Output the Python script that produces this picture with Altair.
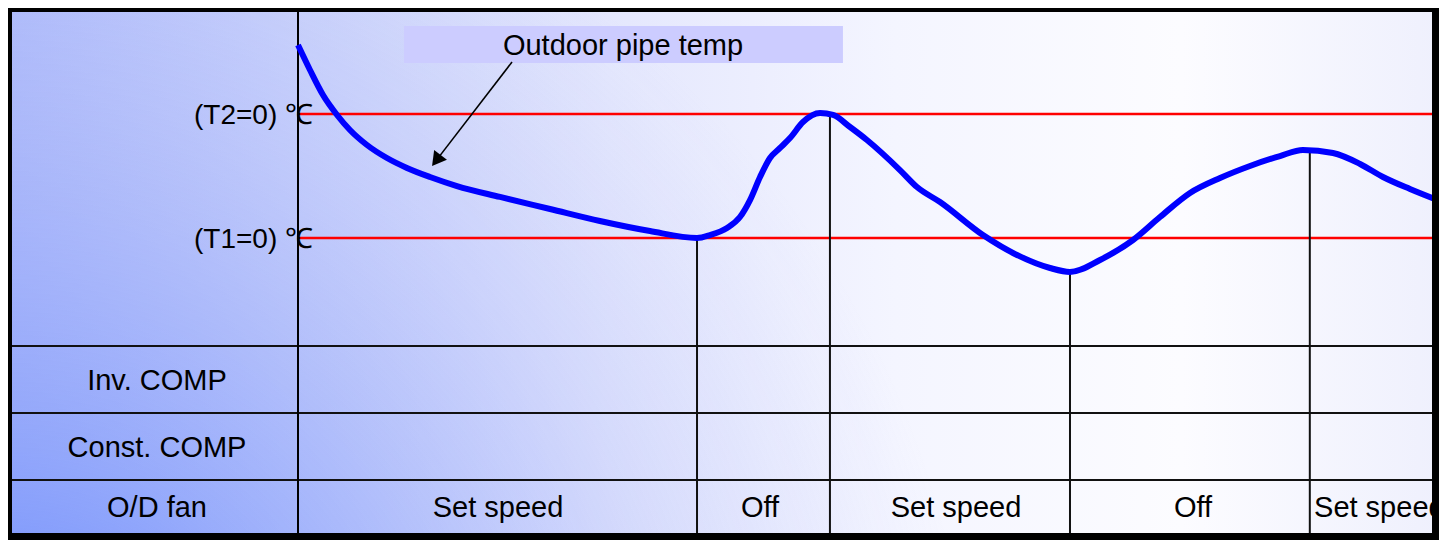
import altair as alt
import pandas as pd

W, H = 1431, 532
FONT = "Liberation Sans"

# ---------------- data ----------------
# time axis: 0 = start of chart, 100 = right edge; temperature axis: T1 = 0, T2 = 10
curve_t = [0.00, 1.05, 2.19, 3.42, 4.55, 6.04, 7.79, 9.54, 11.56, 13.92, 17.69,
           22.07, 26.44, 30.82, 34.94, 36.08, 37.57, 38.70, 39.58, 40.46, 41.33,
           42.21, 43.08, 44.22, 45.71, 46.85, 48.34, 49.82, 52.71, 54.20, 56.22,
           59.98, 62.96, 65.85, 67.60, 70.23, 73.12, 75.48, 78.11, 80.74, 83.36,
           85.99, 88.00, 90.63, 93.00, 95.01, 97.37, 100.00]
curve_temp = [15.56, 13.55, 11.53, 9.92, 8.71, 7.50, 6.45, 5.65, 4.92, 4.19, 3.31,
              2.34, 1.37, 0.56, 0.00, 0.24, 0.81, 1.69, 3.06, 4.92, 6.45,
              7.26, 8.06, 9.35, 10.08, 9.92, 8.95, 7.90, 5.48, 4.11, 2.90,
              0.24, -1.37, -2.42, -2.74, -1.77, -0.16, 1.69, 3.63, 4.84, 5.81,
              6.61, 7.10, 6.85, 5.97, 4.92, 3.95, 2.98]

threshold_labels = ["(T1=0) ℃", "(T2=0) ℃"]
threshold_temp = [0, 10]

event_t = [34.94, 46.58, 67.60, 88.60]
event_temp = [0.00, 10.00, -2.74, 7.10]

row_labels = ["Inv. COMP", "Const. COMP", "O/D fan"]
row_centers = [0.5, 1.5, 2.5]
row_edges = [0, 1, 2]

fan_labels = ["Set speed", "Off", "Set speed", "Off"]
fan_label_t = [17.51, 40.46, 57.62, 78.37]
fan_last_label = ["Set speed"]
fan_last_t = [88.97]

note_text = ["Outdoor pipe temp"]
note_t = [28.46]
note_temp = [15.52]
note_box_t = [9.28, 47.72]
note_box_temp = [14.11, 17.10]

arrow_t = [18.74, 12.11]
arrow_temp = [14.19, 6.26]

# ---------------- tables ----------------
one = pd.DataFrame({"k": [0]})
curve = pd.DataFrame({"t": curve_t, "temp": curve_temp})
thr = pd.DataFrame({"label": threshold_labels, "temp": threshold_temp,
                    "t0": [0] * 2, "t1": [100] * 2})
events = pd.DataFrame({"t": event_t, "temp": event_temp})
rows = pd.DataFrame({"label": row_labels, "pos": row_centers})
edges = pd.DataFrame({"pos": row_edges})
fan = pd.DataFrame({"label": fan_labels, "t": fan_label_t})
fan_last = pd.DataFrame({"label": fan_last_label, "t": fan_last_t})
note = pd.DataFrame({"label": note_text, "t": note_t, "temp": note_temp})
note_box = pd.DataFrame({"t0": [note_box_t[0]], "t1": [note_box_t[1]],
                         "y0": [note_box_temp[0]], "y1": [note_box_temp[1]]})
arrow = pd.DataFrame({"t": arrow_t, "temp": arrow_temp, "o": [0, 1]})
arrow_head = pd.DataFrame({"t": [arrow_t[1]], "temp": [arrow_temp[1]]})

# ---------------- scales ----------------
def xs():
    return alt.Scale(domain=[0, 100], range=[290, 1432], zero=False, nice=False)

def ts():
    return alt.Scale(domain=[0, 10], range=[230, 106], zero=False, nice=False)

def rs():
    return alt.Scale(domain=[0, 1, 2, 3], range=[338, 405, 472, 525], zero=False, nice=False)

X = lambda f: alt.X(f, type="quantitative", scale=xs(), axis=None)
YT = lambda f: alt.Y(f, type="quantitative", scale=ts(), axis=None)
YR = lambda f: alt.Y(f, type="quantitative", scale=rs(), axis=None)

# ---------------- background ----------------
bg_main = alt.Chart(one).mark_rect(
    fill=alt.LinearGradient(
        gradient="linear", x1=0, y1=0, x2=1, y2=0,
        stops=[alt.GradientStop(offset=0.0, color="#b2befa"),
               alt.GradientStop(offset=0.2, color="#cbd3fb"),
               alt.GradientStop(offset=0.42, color="#e4e7fd"),
               alt.GradientStop(offset=0.62, color="#f4f5ff"),
               alt.GradientStop(offset=0.82, color="#fcfcff"),
               alt.GradientStop(offset=1.0, color="#eff0fd")])
).encode(x=alt.value(0), x2=alt.value(W), y=alt.value(0), y2=alt.value(H))

bg_glow = alt.Chart(one).mark_rect(
    fill=alt.RadialGradient(
        gradient="radial", x1=0, y1=1, x2=0, y2=1, r1=0, r2=1,
        stops=[alt.GradientStop(offset=0.0, color="rgba(85,125,255,0.9)"),
               alt.GradientStop(offset=0.32, color="rgba(110,140,252,0.5)"),
               alt.GradientStop(offset=0.68, color="rgba(150,165,250,0.2)"),
               alt.GradientStop(offset=0.97, color="rgba(170,180,250,0)"),
               alt.GradientStop(offset=1.0, color="rgba(170,180,250,0)")])
).encode(x=alt.value(0), x2=alt.value(1000), y=alt.value(0), y2=alt.value(H))

# ---------------- note box ----------------
box = alt.Chart(note_box).mark_rect(color="#ccccff").encode(
    x=X("t0"), x2="t1", y=YT("y0"), y2="y1")

# ---------------- thresholds ----------------
red = alt.Chart(thr).mark_rule(color="#ff0000", strokeWidth=2.5).encode(
    x=X("t0"), x2="t1", y=YT("temp"))

# ---------------- table grid ----------------
hlines = alt.Chart(edges).mark_rule(color="#111111", strokeWidth=2).encode(
    x=alt.value(4), x2=alt.value(W - 6), y=YR("pos"))

divider = alt.Chart(one).mark_rule(color="#000000", strokeWidth=2).encode(
    x=X("z:Q"), y=alt.value(4), y2=alt.value(525)).transform_calculate(z="0")

event_lines = alt.Chart(events).mark_rule(color="#111111", strokeWidth=2).encode(
    x=X("t"), y=YT("temp"), y2=alt.value(525))

# ---------------- curve ----------------
line = alt.Chart(curve).mark_line(color="#0000ff", strokeWidth=6,
                                  interpolate="monotone", strokeCap="butt").encode(
    x=X("t"), y=YT("temp"))

# ---------------- arrow ----------------
arrow_line = alt.Chart(arrow).mark_line(color="#000000", strokeWidth=1.6).encode(
    x=X("t"), y=YT("temp"), order="o:Q")
arrow_tip = alt.Chart(arrow_head).mark_point(
    shape="triangle-up", angle=217.5, filled=True, color="#000000", size=260, opacity=1
).encode(x=X("t"), y=YT("temp"))

# ---------------- texts ----------------
thr_text = alt.Chart(thr).mark_text(font=FONT, fontSize=28, align="right",
                                    baseline="middle", dy=2, color="#000000").encode(
    x=alt.value(305), y=YT("temp"), text="label:N")

note_label = alt.Chart(note).mark_text(font=FONT, fontSize=29, align="center",
                                       baseline="middle", color="#000000").encode(
    x=X("t"), y=YT("temp"), text="label:N")

row_text = alt.Chart(rows).mark_text(font=FONT, fontSize=29, align="center",
                                     baseline="middle", dy=1, color="#000000").encode(
    x=alt.value(149), y=YR("pos"), text="label:N")

fan_text = alt.Chart(fan).mark_text(font=FONT, fontSize=29, align="center",
                                    baseline="middle", dy=1, color="#000000").encode(
    x=X("t"), y=alt.value(499), text="label:N")

fan_last_text = alt.Chart(fan_last).mark_text(font=FONT, fontSize=29, align="left",
                                              baseline="middle", dy=1, color="#000000").encode(
    x=X("t"), y=alt.value(499), text="label:N")

# ---------------- frame ----------------
frame = alt.Chart(one).mark_rect(fillOpacity=0, stroke="#000000", strokeWidth=7).encode(
    x=alt.value(0.5), x2=alt.value(W - 3.5), y=alt.value(0.5), y2=alt.value(H - 3.5))

chart = alt.layer(
    bg_main, bg_glow, box, red, hlines, divider, event_lines, line,
    arrow_line, arrow_tip, thr_text, note_label, row_text, fan_text,
    fan_last_text, frame
).resolve_scale(y="independent").properties(
    width=W, height=H, padding=0,
    autosize=alt.AutoSizeParams(type="none")
).configure_view(strokeWidth=0)

chart.save("out.html", embed_options={"renderer": "svg", "actions": False})
